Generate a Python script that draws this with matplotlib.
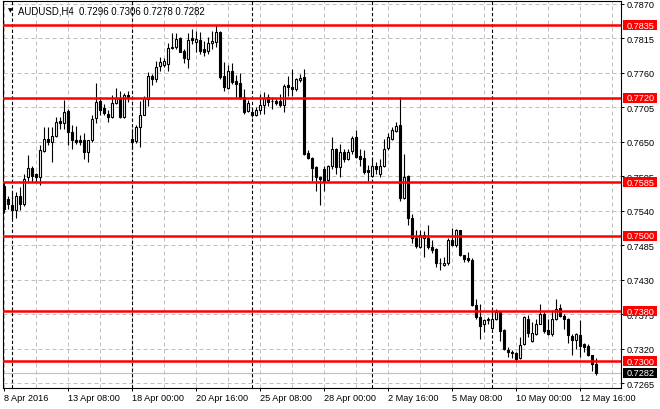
import numpy as np
import matplotlib
matplotlib.use("Agg")
import matplotlib.pyplot as plt
import matplotlib.transforms as mtransforms
from matplotlib.patches import Rectangle

plt.rcParams['font.family'] = ['Liberation Sans', 'DejaVu Sans']

symbol = "AUDUSD,H4"

# H4 candles, 8 Apr 2016 16:00 .. 13 May 2016 08:00
opens = [0.7580, 0.7559, 0.7549, 0.7541, 0.7564, 0.7551, 0.7594, 0.7608, 0.7598, 0.7593,
         0.7635, 0.7655, 0.7650, 0.7659, 0.7683, 0.7679, 0.7699, 0.7666, 0.7653, 0.7652,
         0.7652, 0.7634, 0.7652, 0.7687, 0.7714, 0.7704, 0.7694, 0.7689, 0.7712, 0.7720,
         0.7689, 0.7725, 0.7655, 0.7651, 0.7674, 0.7693, 0.7718, 0.7755, 0.7749, 0.7770,
         0.7772, 0.7774, 0.7799, 0.7801, 0.7815, 0.7795, 0.7782, 0.7815, 0.7809, 0.7812,
         0.7798, 0.7795, 0.7807, 0.7808, 0.7825, 0.7754, 0.7736, 0.7763, 0.7747, 0.7743,
         0.7721, 0.7699, 0.7697, 0.7693, 0.7701, 0.7709, 0.7721, 0.7715, 0.7714, 0.7714,
         0.7709, 0.7740, 0.7737, 0.7734, 0.7748, 0.7753, 0.7632, 0.7624, 0.7610, 0.7594,
         0.7606, 0.7589, 0.7612, 0.7638, 0.7610, 0.7633, 0.7623, 0.7635, 0.7657, 0.7627,
         0.7624, 0.7605, 0.7596, 0.7612, 0.7599, 0.7611, 0.7640, 0.7654, 0.7667, 0.7677,
         0.7560, 0.7595, 0.7528, 0.7497, 0.7482, 0.7497, 0.7496, 0.7482, 0.7479, 0.7457,
         0.7453, 0.7457, 0.7493, 0.7485, 0.7509, 0.7469, 0.7464, 0.7462, 0.7390, 0.7371,
         0.7360, 0.7366, 0.7354, 0.7368, 0.7379, 0.7350, 0.7319, 0.7315, 0.7314, 0.7306,
         0.7328, 0.7368, 0.7332, 0.7344, 0.7360, 0.7376, 0.7350, 0.7343, 0.7368, 0.7385,
         0.7373, 0.7368, 0.7341, 0.7334, 0.7342, 0.7327, 0.7325, 0.7310, 0.7296]
highs = [0.7586, 0.7564, 0.7570, 0.7570, 0.7578, 0.7599, 0.7629, 0.7612, 0.7600, 0.7644,
         0.7674, 0.7674, 0.7674, 0.7690, 0.7690, 0.7717, 0.7702, 0.7676, 0.7675, 0.7660,
         0.7663, 0.7653, 0.7692, 0.7744, 0.7721, 0.7710, 0.7701, 0.7725, 0.7736, 0.7731,
         0.7728, 0.7730, 0.7670, 0.7676, 0.7714, 0.7723, 0.7761, 0.7758, 0.7779, 0.7785,
         0.7783, 0.7807, 0.7823, 0.7823, 0.7816, 0.7798, 0.7823, 0.7829, 0.7826, 0.7825,
         0.7811, 0.7817, 0.7826, 0.7835, 0.7827, 0.7777, 0.7772, 0.7775, 0.7756, 0.7760,
         0.7734, 0.7717, 0.7702, 0.7705, 0.7726, 0.7729, 0.7726, 0.7721, 0.7718, 0.7726,
         0.7742, 0.7755, 0.7765, 0.7751, 0.7758, 0.7765, 0.7636, 0.7625, 0.7611, 0.7596,
         0.7612, 0.7613, 0.7657, 0.7640, 0.7647, 0.7639, 0.7639, 0.7659, 0.7669, 0.7638,
         0.7636, 0.7613, 0.7624, 0.7618, 0.7622, 0.7655, 0.7663, 0.7673, 0.7681, 0.7721,
         0.7631, 0.7597, 0.7535, 0.7509, 0.7510, 0.7507, 0.7518, 0.7493, 0.7481, 0.7464,
         0.7466, 0.7496, 0.7513, 0.7511, 0.7510, 0.7470, 0.7475, 0.7464, 0.7399, 0.7392,
         0.7368, 0.7370, 0.7380, 0.7384, 0.7381, 0.7352, 0.7323, 0.7318, 0.7315, 0.7339,
         0.7373, 0.7374, 0.7363, 0.7368, 0.7391, 0.7378, 0.7368, 0.7382, 0.7400, 0.7392,
         0.7376, 0.7369, 0.7344, 0.7345, 0.7366, 0.7330, 0.7327, 0.7311, 0.7306]
lows = [0.7537, 0.7543, 0.7527, 0.7529, 0.7541, 0.7548, 0.7586, 0.7586, 0.7586, 0.7581,
        0.7633, 0.7644, 0.7618, 0.7657, 0.7670, 0.7670, 0.7644, 0.7639, 0.7646, 0.7644,
        0.7623, 0.7618, 0.7650, 0.7680, 0.7693, 0.7692, 0.7682, 0.7687, 0.7710, 0.7688,
        0.7688, 0.7713, 0.7638, 0.7648, 0.7641, 0.7692, 0.7707, 0.7740, 0.7745, 0.7763,
        0.7769, 0.7762, 0.7797, 0.7798, 0.7792, 0.7775, 0.7767, 0.7806, 0.7793, 0.7790,
        0.7787, 0.7790, 0.7798, 0.7801, 0.7750, 0.7731, 0.7734, 0.7742, 0.7721, 0.7718,
        0.7694, 0.7697, 0.7689, 0.7691, 0.7694, 0.7694, 0.7707, 0.7702, 0.7709, 0.7705,
        0.7697, 0.7723, 0.7723, 0.7731, 0.7745, 0.7628, 0.7622, 0.7588, 0.7572, 0.7549,
        0.7572, 0.7588, 0.7607, 0.7599, 0.7594, 0.7618, 0.7620, 0.7631, 0.7624, 0.7612,
        0.7599, 0.7587, 0.7594, 0.7599, 0.7594, 0.7609, 0.7636, 0.7652, 0.7665, 0.7555,
        0.7558, 0.7517, 0.7488, 0.7481, 0.7480, 0.7466, 0.7479, 0.7472, 0.7451, 0.7445,
        0.7452, 0.7454, 0.7484, 0.7483, 0.7468, 0.7459, 0.7459, 0.7389, 0.7368, 0.7335,
        0.7347, 0.7360, 0.7352, 0.7366, 0.7332, 0.7318, 0.7307, 0.7306, 0.7299, 0.7304,
        0.7326, 0.7339, 0.7331, 0.7342, 0.7359, 0.7346, 0.7342, 0.7341, 0.7366, 0.7371,
        0.7351, 0.7330, 0.7311, 0.7320, 0.7307, 0.7315, 0.7308, 0.7285, 0.7278]
closes = [0.7543, 0.7551, 0.7541, 0.7564, 0.7551, 0.7591, 0.7608, 0.7596, 0.7593, 0.7636,
          0.7655, 0.7650, 0.7659, 0.7682, 0.7679, 0.7697, 0.7666, 0.7653, 0.7650, 0.7649,
          0.7633, 0.7652, 0.7686, 0.7713, 0.7701, 0.7696, 0.7689, 0.7712, 0.7720, 0.7689,
          0.7725, 0.7721, 0.7650, 0.7674, 0.7693, 0.7720, 0.7755, 0.7749, 0.7769, 0.7777,
          0.7779, 0.7799, 0.7801, 0.7814, 0.7793, 0.7783, 0.7812, 0.7812, 0.7814, 0.7795,
          0.7793, 0.7807, 0.7810, 0.7824, 0.7753, 0.7737, 0.7763, 0.7745, 0.7742, 0.7719,
          0.7698, 0.7712, 0.7693, 0.7701, 0.7709, 0.7719, 0.7713, 0.7714, 0.7712, 0.7709,
          0.7738, 0.7737, 0.7734, 0.7749, 0.7751, 0.7631, 0.7624, 0.7608, 0.7594, 0.7591,
          0.7588, 0.7612, 0.7638, 0.7610, 0.7634, 0.7623, 0.7634, 0.7656, 0.7625, 0.7622,
          0.7602, 0.7602, 0.7611, 0.7607, 0.7611, 0.7639, 0.7657, 0.7668, 0.7675, 0.7560,
          0.7594, 0.7528, 0.7496, 0.7484, 0.7501, 0.7501, 0.7482, 0.7477, 0.7457, 0.7456,
          0.7457, 0.7493, 0.7485, 0.7510, 0.7469, 0.7463, 0.7462, 0.7390, 0.7371, 0.7357,
          0.7366, 0.7368, 0.7367, 0.7379, 0.7348, 0.7320, 0.7315, 0.7313, 0.7304, 0.7326,
          0.7370, 0.7345, 0.7345, 0.7360, 0.7376, 0.7348, 0.7343, 0.7367, 0.7384, 0.7372,
          0.7367, 0.7342, 0.7334, 0.7343, 0.7325, 0.7323, 0.7310, 0.7296, 0.7282]

date_labels = ["8 Apr 2016", "13 Apr 08:00", "18 Apr 00:00", "20 Apr 16:00", "25 Apr 08:00",
               "28 Apr 00:00", "2 May 16:00", "5 May 08:00", "10 May 00:00", "12 May 16:00"]
date_bars = [0, 16, 32, 48, 64, 80, 96, 112, 128, 144]
week_starts = [2, 32, 62, 92, 122]      # Monday 00:00 bars
price_ticks = [0.7265, 0.7320, 0.7375, 0.7430, 0.7485, 0.7540,
               0.7595, 0.7650, 0.7705, 0.7760, 0.7815, 0.7870]
levels = [0.7835, 0.7720, 0.7585, 0.7500, 0.7380, 0.7300]

o = np.array(opens); h = np.array(highs); l = np.array(lows); c = np.array(closes)
x = np.arange(len(o))
up = c >= o

fig = plt.figure(figsize=(6.6, 4.1), dpi=100)
ax = fig.add_axes([3/660, 21/410, 618/660, 387/410])
ax.set_xlim(-0.175, 154.3)
ax.set_ylim(0.72577, 0.78740)

# grid
for b in range(0, 155, 8):
    ax.axvline(b, color='#c0c0c0', lw=0.72, ls=(0, (4, 3)), zorder=1)
for p in price_ticks:
    ax.axhline(p, color='#c0c0c0', lw=0.72, ls=(0, (4, 3)), zorder=1)
for b in week_starts:
    ax.axvline(b, color='black', lw=0.8, ls=(0, (3, 2)), zorder=1.5)

# current price line
ax.axhline(c[-1], color='#c0c0c0', lw=0.8, zorder=1.6)

# candles
ax.vlines(x, l, h, color='black', lw=0.8, zorder=2)
bot = np.minimum(o, c)
hgt = np.abs(c - o)
ax.bar(x[up], hgt[up], bottom=bot[up], width=0.55, facecolor='white',
       edgecolor='black', linewidth=0.8, zorder=3)
ax.bar(x[~up], hgt[~up], bottom=bot[~up], width=0.55, facecolor='black',
       edgecolor='black', linewidth=0.8, zorder=3)

# support / resistance
for lv in levels:
    ax.axhline(lv, color='#ff0000', lw=1.8, zorder=4)

# axes styling
for s in ax.spines.values():
    s.set_color('black')
    s.set_linewidth(0.8)
ax.yaxis.tick_right()
ax.set_yticks(price_ticks)
ax.set_yticklabels([f"{p:.4f}" for p in price_ticks])
ax.tick_params(axis='y', direction='out', length=2.2, width=0.7, pad=1.5,
               labelsize=6.6, colors='black')
ax.set_xticks(date_bars)
ax.set_xticklabels(date_labels, ha='left')
ax.tick_params(axis='x', direction='out', length=2.2, width=0.7, pad=1.5,
               labelsize=6.6, colors='black')

# price labels on the right
tr = mtransforms.blended_transform_factory(ax.transAxes, ax.transData)
box_h = 10 / 6280
def price_tag(val, fc):
    ax.add_patch(Rectangle((1.0025, val - box_h / 2), 0.056, box_h, transform=tr,
                           facecolor=fc, edgecolor='none', clip_on=False, zorder=10))
    ax.text(1.009, val, f"{val:.4f}", transform=tr, color='white', fontsize=6.6,
            ha='left', va='center', clip_on=False, zorder=11)

for lv in levels:
    price_tag(lv, '#ff0000')
price_tag(c[-1], 'black')

# header
fig.text(10/660, 1 - 10.5/410, "\u25bc", fontsize=4.5, family='DejaVu Sans',
         ha='center', va='center')
fig.text(18/660, 1 - 11/410,
         f"{symbol}  {o[-1]:.4f} {h[-1]:.4f} {l[-1]:.4f} {c[-1]:.4f}",
         fontsize=6.9, ha='left', va='center')

fig.savefig("out.png", dpi=100, facecolor='white')
